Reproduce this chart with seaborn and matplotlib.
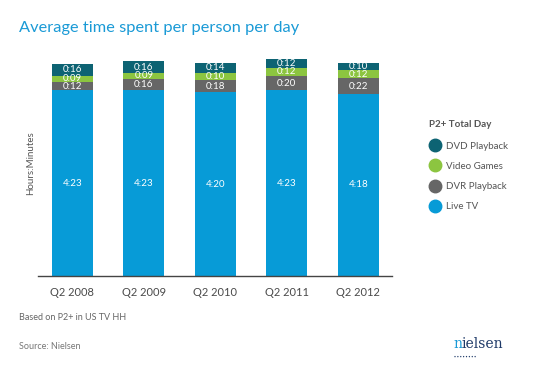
import matplotlib
matplotlib.use("Agg")
import matplotlib.pyplot as plt
from matplotlib.lines import Line2D
import seaborn as sns
import pandas as pd
import numpy as np

# Datos (minutos por persona y día)
quarters = ["Q2 2008", "Q2 2009", "Q2 2010", "Q2 2011", "Q2 2012"]
live_tv = [263, 263, 260, 263, 258]
dvr_playback = [12, 16, 18, 20, 22]
video_games = [9, 9, 10, 12, 12]
dvd_playback = [16, 16, 14, 12, 10]

series_names = ["Live TV", "DVR Playback", "Video Games", "DVD Playback"]
series_colors = ["#079bd7", "#666666", "#8cc540", "#0d6373"]

df = pd.DataFrame({
    "quarter": quarters,
    "Live TV": live_tv,
    "DVR Playback": dvr_playback,
    "Video Games": video_games,
    "DVD Playback": dvd_playback,
})

def hmm(m):
    return f"{m // 60}:{m % 60:02d}"

sns.set_style("white")
plt.rcParams["font.family"] = ["Lato", "DejaVu Sans"]

fig = plt.figure(figsize=(5.42, 3.71), dpi=100)
ax = fig.add_axes([0.0701, 0.256, 0.6531, 0.609])

# Barras apiladas: dibujamos los acumulados de arriba hacia abajo
cum = df[series_names].cumsum(axis=1)
for name, color in reversed(list(zip(series_names, series_colors))):
    sns.barplot(x=df["quarter"], y=cum[name], color=color, width=0.575,
                order=quarters, ax=ax, linewidth=0, saturation=1)

# Etiquetas dentro de cada segmento
for i in range(len(quarters)):
    base = 0
    for name in series_names:
        v = df[name].iloc[i]
        ax.text(i, base + v / 2, hmm(v), ha="center", va="center",
                color="white", fontsize=7)
        base += v

ax.set_xlim(-0.48, 4.47)
ax.set_ylim(0, 320)
ax.set_yticks([])
ax.set_xlabel("")
ax.set_ylabel("Hours:Minutes", fontsize=7, color="#555555", labelpad=2)
for s in ["top", "right", "left"]:
    ax.spines[s].set_visible(False)
ax.spines["bottom"].set_color("#444444")
ax.spines["bottom"].set_linewidth(1.0)
ax.tick_params(axis="x", length=0, pad=8, labelsize=8, labelcolor="#4a4a4a")

# Leyenda
handles = [Line2D([], [], marker="o", linestyle="", markersize=9,
                  markerfacecolor=c, markeredgecolor=c)
           for c in reversed(series_colors)]
leg = fig.legend(handles, list(reversed(series_names)), title="P2+ Total Day",
                 loc="upper left", bbox_to_anchor=(0.775, 0.700), frameon=False,
                 fontsize=7, title_fontsize=7, labelspacing=1.15,
                 handletextpad=0.6, handlelength=1.2, labelcolor="#555555")
leg.get_title().set_color("#555555")
leg.get_title().set_fontweight("bold")
leg._legend_box.align = "left"
leg._legend_box.sep = 9

# Título y notas
fig.text(0.035, 0.925, "Average time spent per person per day", fontsize=11.8,
         color="#1a9ad6", ha="left", va="center")
fig.text(0.035, 0.145, "Based on P2+ in US TV HH", fontsize=6.5,
         color="#666666", ha="left", va="center")
fig.text(0.035, 0.067, "Source: Nielsen", fontsize=6.5,
         color="#777777", ha="left", va="center")
fig.text(0.836, 0.072, "n", fontsize=10, color="#1a9ad6", family="DejaVu Serif",
         ha="left", va="center")
fig.text(0.8505, 0.072, "ielsen", fontsize=10, color="#1f3a68", family="DejaVu Serif",
         ha="left", va="center")
fig.text(0.837, 0.038, "• • • • • • • •", fontsize=2.5, color="#1f3a68",
         ha="left", va="center")

fig.savefig("out.png", dpi=100)
